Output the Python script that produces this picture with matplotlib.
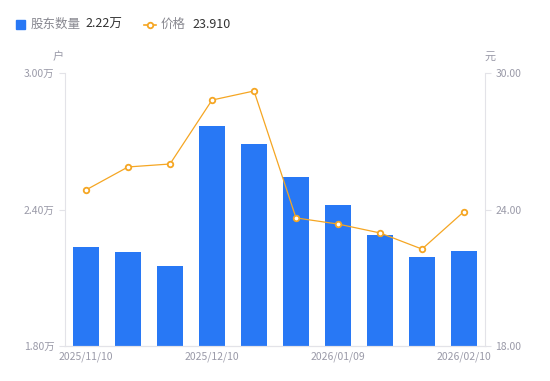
import matplotlib.pyplot as plt
from matplotlib.lines import Line2D

plt.rcParams['font.family'] = ['Noto Sans CJK SC', 'DejaVu Sans']

# Daten
dates = ['2025/11/10', '2025/11/20', '2025/11/30', '2025/12/10', '2025/12/20',
         '2025/12/31', '2026/01/09', '2026/01/20', '2026/01/30', '2026/02/10']
holders = [2.235, 2.213, 2.152, 2.767, 2.688, 2.543, 2.42, 2.288, 2.191, 2.218]  # 万户
price = [24.86, 25.87, 26.0, 28.81, 29.21, 23.63, 23.36, 22.97, 22.26, 23.91]
left_ticks = [1.80, 2.40, 3.00]
right_ticks = [18.0, 24.0, 30.0]

bar_color = '#2878F5'
line_color = '#F5A623'
axis_color = '#E3E3E8'
label_color = '#9A9AA8'

fig = plt.figure(figsize=(5.5, 3.81), dpi=100)
ax = fig.add_axes([65/550, 35/381, 420/550, 273/381])
ax2 = ax.twinx()

x = list(range(len(dates)))
ax.bar(x, holders, width=0.6, color=bar_color, zorder=2)
ax2.plot(x, price, color=line_color, linewidth=0.9, marker='o', markersize=4,
         markerfacecolor='white', markeredgecolor=line_color, markeredgewidth=1.3, zorder=3)

ax.set_xlim(-0.5, len(dates) - 0.5)
ax.set_ylim(1.8, 3.0)
ax2.set_ylim(18, 30)

ax.set_yticks(left_ticks)
ax.set_yticklabels(['%.2f万' % v for v in left_ticks])
ax2.set_yticks(right_ticks)
ax2.set_yticklabels(['%.2f' % v for v in right_ticks])

ax.set_xticks([0, 3, 6, 9])
ax.set_xticklabels([dates[i] for i in [0, 3, 6, 9]])

for a in (ax, ax2):
    for s in ('top',):
        a.spines[s].set_visible(False)
    a.spines['left'].set_color(axis_color)
    a.spines['right'].set_color(axis_color)
    a.spines['bottom'].set_color(axis_color)
    a.tick_params(colors=label_color, labelsize=7.5, length=4, width=0.8)
    a.tick_params(axis='y', color=axis_color)
ax.tick_params(axis='x', length=0, pad=4)
ax.spines['right'].set_visible(False)
ax2.spines['left'].set_visible(False)

# Einheiten
fig.text(58/550, 1 - 57/381, '户', color=label_color, fontsize=8, ha='center', va='center')
fig.text(490/550, 1 - 57/381, '元', color=label_color, fontsize=8, ha='center', va='center')

# Legende
fig.patches.append(plt.Rectangle((16/550, 1 - 29/381), 9/550, 9/381, transform=fig.transFigure,
                                 color=bar_color, figure=fig))
fig.text(31/550, 1 - 24.5/381, '股东数量', color='#888890', fontsize=9, va='center')
fig.text(85/550, 1 - 24.5/381, '%.2f万' % holders[-1], color='#333333', fontsize=9, va='center')
fig.lines.append(Line2D([144/550, 156/550], [1 - 24.5/381, 1 - 24.5/381], transform=fig.transFigure,
                        color=line_color, linewidth=1.2, marker='o', markevery=[0], markersize=0))
fig.lines.append(Line2D([150/550], [1 - 24.5/381], transform=fig.transFigure, color=line_color,
                        marker='o', markersize=4, markerfacecolor='white', markeredgewidth=1.3,
                        linestyle='none'))
fig.text(161/550, 1 - 24.5/381, '价格', color='#888890', fontsize=9, va='center')
fig.text(192/550, 1 - 24.5/381, '%.3f' % price[-1], color='#333333', fontsize=9, va='center')

plt.savefig('out.png', dpi=100)
